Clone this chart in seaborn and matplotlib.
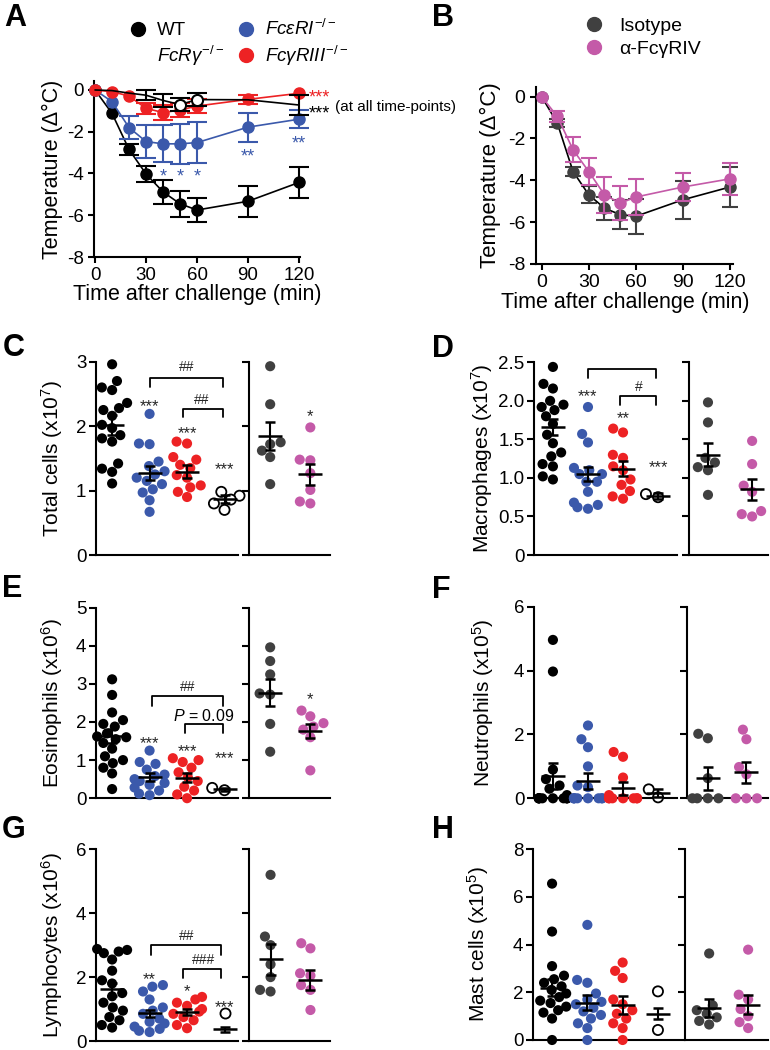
import numpy as np
import pandas as pd
import matplotlib
matplotlib.use("Agg")
import matplotlib.pyplot as plt
import seaborn as sns
from matplotlib.lines import Line2D

sns.set_theme(style="ticks")
plt.rcParams["font.family"] = ["Liberation Sans", "DejaVu Sans"]
plt.rcParams["mathtext.fontset"] = "custom"
plt.rcParams["mathtext.rm"] = "Liberation Sans"
plt.rcParams["mathtext.it"] = "Liberation Sans:italic"
plt.rcParams["axes.unicode_minus"] = False
plt.rcParams["axes.linewidth"] = 1.5
plt.rcParams["axes.edgecolor"] = "black"
plt.rcParams["xtick.major.width"] = 1.5
plt.rcParams["ytick.major.width"] = 1.5
plt.rcParams["xtick.major.size"] = 4.5
plt.rcParams["ytick.major.size"] = 4.5
plt.rcParams["xtick.color"] = "black"
plt.rcParams["ytick.color"] = "black"
plt.rcParams["text.color"] = "black"
plt.rcParams["axes.labelcolor"] = "black"

BLUE = "#3b59ab"
RED = "#ed2224"
GRAY = "#404040"
PINK = "#c45aa8"
STAR = "#262626"

# ---- A / B : temperature time course ----
times = [0, 10, 20, 30, 40, 50, 60, 90, 120]
time_ticks = [0, 30, 60, 90, 120]
temp_ticks = [0, -2, -4, -6, -8]

wt_temp = [0, -1.12, -2.85, -4.02, -4.88, -5.45, -5.75, -5.33, -4.43]
wt_temp_sem = [0, 0, 0.28, 0.40, 0.57, 0.62, 0.56, 0.74, 0.73]
fce_temp = [0, -0.56, -1.80, -2.47, -2.58, -2.58, -2.52, -1.78, -1.40]
fce_temp_sem = [0, 0, 0.56, 0.80, 0.89, 0.96, 1.00, 0.70, 0.44]
fcg_temp = [0, -0.08, -0.29, -0.88, -1.08, -0.96, -0.77, -0.45, -0.16]
fcg_temp_sem = [0, 0, 0, 0.28, 0.35, 0.35, 0.35, 0.20, 0]
fcr_temp = [0, -0.03, -0.15, -0.25, -0.50, -0.70, -0.46, -0.47, -0.72]
fcr_temp_sem = [0, 0, 0, 0.25, 0.30, 0.30, 0.30, 0, 0.50]

iso_temp = [0, -1.27, -3.58, -4.69, -5.33, -5.64, -5.72, -4.93, -4.32]
iso_temp_sem = [0, 0.20, 0.20, 0.40, 0.55, 0.68, 0.83, 0.90, 0.95]
anti_temp = [0, -0.95, -2.54, -3.58, -4.69, -5.09, -4.80, -4.32, -3.93]
anti_temp_sem = [0, 0.24, 0.60, 0.65, 0.87, 0.83, 0.87, 0.68, 0.75]

# ---- C : total cells (x10^7) ----
tc_wt = [2.96, 2.70, 2.60, 2.56, 2.36, 2.28, 2.25, 2.16, 2.02, 1.97, 1.86, 1.81, 1.76, 1.42, 1.34, 1.29, 1.11]
tc_fce = [2.19, 1.73, 1.72, 1.45, 1.38, 1.30, 1.25, 1.20, 1.15, 1.10, 1.02, 0.97, 0.85, 0.67]
tc_fcg = [1.76, 1.73, 1.52, 1.48, 1.40, 1.35, 1.24, 1.20, 1.08, 1.05, 0.98, 0.90]
tc_fcr = [0.98, 0.92, 0.86, 0.80, 0.70]
tc_iso = [2.93, 2.34, 1.75, 1.72, 1.62, 1.52, 1.10]
tc_anti = [1.98, 1.48, 1.47, 1.27, 1.01, 0.83, 0.80]
tc_mean = [2.02, 1.27, 1.29, 0.87, 1.85, 1.25]
tc_sem = [0.15, 0.11, 0.10, 0.06, 0.22, 0.16]

# ---- D : macrophages (x10^7) ----
mp_wt = [2.44, 2.22, 2.16, 2.00, 1.95, 1.92, 1.88, 1.80, 1.70, 1.56, 1.45, 1.33, 1.28, 1.18, 1.15, 1.02, 0.98]
mp_fce = [1.92, 1.57, 1.46, 1.13, 1.10, 1.05, 1.05, 0.95, 0.95, 0.82, 0.68, 0.65, 0.62, 0.60]
mp_fcg = [1.64, 1.59, 1.30, 1.26, 1.15, 1.10, 0.98, 0.91, 0.83, 0.76, 0.73]
mp_fcr = [0.79, 0.75]
mp_iso = [1.98, 1.72, 1.26, 1.20, 1.14, 1.10, 0.78]
mp_anti = [1.48, 1.18, 0.90, 0.82, 0.57, 0.53, 0.50]
mp_mean = [1.66, 1.05, 1.12, 0.77, 1.30, 0.85]
mp_sem = [0.10, 0.095, 0.10, 0.04, 0.15, 0.13]

# ---- E : eosinophils (x10^6) ----
eo_wt = [3.12, 2.71, 2.25, 2.05, 1.95, 1.88, 1.70, 1.62, 1.60, 1.55, 1.45, 1.30, 1.10, 1.00, 0.92, 0.80, 0.65, 0.24]
eo_fce = [1.25, 0.95, 0.90, 0.75, 0.62, 0.58, 0.50, 0.45, 0.40, 0.35, 0.28, 0.20, 0.12, 0.08]
eo_fcg = [1.05, 1.00, 0.95, 0.80, 0.68, 0.55, 0.45, 0.30, 0.20, 0.10, 0.0]
eo_fcr = [0.27, 0.21]
eo_iso = [3.96, 3.60, 3.25, 2.75, 2.72, 1.95, 1.22]
eo_anti = [2.30, 2.15, 1.97, 1.88, 1.80, 1.60, 0.73]
eo_mean = [1.63, 0.55, 0.54, 0.24, 2.77, 1.77]
eo_sem = [0.18, 0.11, 0.12, 0.04, 0.35, 0.18]

# ---- F : neutrophils (x10^5) ----
ne_wt = [4.96, 3.97, 0.90, 0.60, 0.40, 0.30, 0.10, 0, 0, 0, 0, 0, 0, 0, 0, 0, 0]
ne_fce = [2.28, 1.85, 1.60, 1.00, 0.40, 0.35, 0, 0, 0, 0, 0, 0, 0, 0]
ne_fcg = [1.45, 1.30, 0.65, 0.10, 0, 0, 0, 0, 0, 0, 0]
ne_fcr = [0.28, 0.03]
ne_iso = [2.02, 1.88, 0.63, 0, 0, 0, 0]
ne_anti = [2.15, 1.85, 0.98, 0.75, 0, 0, 0]
ne_mean = [0.70, 0.54, 0.31, 0.16, 0.63, 0.81]
ne_sem = [0.41, 0.26, 0.20, 0.12, 0.36, 0.34]

# ---- G : lymphocytes (x10^6) ----
ly_wt = [2.88, 2.85, 2.80, 2.75, 2.55, 2.20, 1.90, 1.80, 1.50, 1.40, 1.20, 1.05, 0.95, 0.75, 0.65, 0.50, 0.42]
ly_fce = [1.75, 1.70, 1.55, 1.30, 1.05, 0.95, 0.85, 0.70, 0.60, 0.55, 0.45, 0.38, 0.32, 0.28]
ly_fcg = [1.38, 1.30, 1.20, 1.10, 1.00, 0.92, 0.85, 0.75, 0.65, 0.50, 0.40]
ly_fcr = [0.89]
ly_iso = [5.20, 3.27, 3.00, 2.40, 2.00, 1.60, 1.55]
ly_anti = [3.06, 2.90, 2.12, 2.05, 1.75, 1.60, 0.97]
ly_mean = [1.62, 0.87, 0.90, 0.37, 2.56, 1.91]
ly_sem = [0.20, 0.11, 0.09, 0.08, 0.49, 0.31]

# ---- H : mast cells (x10^5) ----
mc_wt = [6.56, 4.55, 3.10, 2.70, 2.55, 2.40, 2.25, 2.10, 1.95, 1.80, 1.65, 1.55, 1.40, 1.25, 1.15, 0.90, 0.0]
mc_fce = [4.83, 2.52, 2.40, 1.95, 1.70, 1.60, 1.50, 1.35, 1.20, 1.05, 0.90, 0.70, 0.50, 0.0]
mc_fcg = [3.25, 2.90, 2.60, 1.70, 1.50, 1.25, 1.10, 0.90, 0.70, 0.50, 0.0]
mc_fcr = [2.04, 0.42]
mc_iso = [3.63, 1.45, 1.25, 1.10, 0.95, 0.80, 0.65]
mc_anti = [3.79, 1.90, 1.70, 1.30, 1.00, 0.75, 0.50]
mc_mean = [2.19, 1.57, 1.46, 1.11, 1.35, 1.48]
mc_sem = [0.35, 0.33, 0.38, 0.22, 0.37, 0.40]

left_order = ["WT", "FceRI", "FcgRIII", "FcRg"]
right_order = ["Isotype", "anti-FcgRIV"]
left_pal = {"WT": "black", "FceRI": BLUE, "FcgRIII": RED, "FcRg": "white"}
right_pal = {"Isotype": GRAY, "anti-FcgRIV": PINK}

fig = plt.figure(figsize=(7.7, 10.5), dpi=100)


def box(l, r, t, b):
    return [l / 770, 1 - b / 1050, (r - l) / 770, (b - t) / 1050]


def temp_line(ax, y, err, color, z, cap=7, **kw):
    err = np.where(np.array(err) > 0, err, np.nan)
    c = ax.errorbar(times, y, yerr=err, color=color, marker="o", ms=8, lw=1.2,
                    elinewidth=1.5, capsize=cap, capthick=1.5, zorder=z, **kw)
    for a in c.get_children():
        a.set_clip_on(False)


def style_time_axis(ax, xlim, top, size):
    ax.set_xlim(*xlim)
    ax.set_ylim(-8, top)
    ax.set_xticks(time_ticks)
    ax.set_yticks(temp_ticks)
    ax.tick_params(labelsize=size, pad=3)
    sns.despine(ax=ax)


def stars(ax, x, y, s, color=STAR, size=12):
    ax.annotate(s, (x, y), xytext=(0, -0.58 * size), textcoords="offset points",
                ha="center", va="baseline", fontsize=size, color=color,
                annotation_clip=False)


def hashes(ax, x, y, s, size=10):
    ax.annotate(s, (x, y), xytext=(0, -0.33 * size), textcoords="offset points",
                ha="center", va="baseline", fontsize=size, color=STAR)


def bracket(ax, x1, x2, top, bottom):
    ax.plot([x1, x1, x2, x2], [bottom, top, top, bottom], color="black", lw=1.3)


# ---------------- panel A ----------------
axA = fig.add_axes(box(94, 300, 81, 257))
temp_line(axA, wt_temp, wt_temp_sem, "black", 2)
temp_line(axA, fce_temp, fce_temp_sem, BLUE, 3)
temp_line(axA, fcg_temp, fcg_temp_sem, RED, 4)
temp_line(axA, fcr_temp, fcr_temp_sem, "black", 5, mfc="white", mec="black",
          mew=1.5, markevery=[5, 6])
style_time_axis(axA, (-0.6, 120.6), 0.43, 13.5)
axA.set_xlabel("Time after challenge (min)", fontsize=15.5, va="top")
axA.xaxis.set_label_coords(0.5, -(284 - 257) / 176)
axA.set_ylabel("Temperature (Δ°C)", fontsize=15.5, va="center")
axA.yaxis.set_label_coords((52 - 94) / 206, 0.5)
for t in [40, 50, 60]:
    stars(axA, t, -3.9, "*", BLUE, 13)
stars(axA, 90, -2.9, "**", BLUE, 13)
stars(axA, 120, -2.3, "**", BLUE, 13)
axA.annotate("***", (126, -0.12), xytext=(0, -7.5), textcoords="offset points",
             ha="left", va="baseline", fontsize=13, color=RED, annotation_clip=False)
axA.annotate("***", (126, -0.85), xytext=(0, -7.5), textcoords="offset points",
             ha="left", va="baseline", fontsize=13, color="black", annotation_clip=False)
axA.annotate("(at all time-points)", (141, -0.8), ha="left", va="center",
             fontsize=11, annotation_clip=False)

hA = [Line2D([], [], ls="", marker="o", ms=10, color="black"),
      Line2D([], [], ls="", marker="o", ms=10, mfc="none", mec="none"),
      Line2D([], [], ls="", marker="o", ms=10, color=BLUE),
      Line2D([], [], ls="", marker="o", ms=10, color=RED)]
labA = ["WT", r"$\mathit{FcR\gamma}^{-/-}$", r"$\mathit{Fc\varepsilon RI}^{-/-}$",
        r"$\mathit{Fc\gamma RIII}^{-/-}$"]
fig.legend(hA, labA, ncol=2, loc="upper left", bbox_to_anchor=(128.6 / 770, 1 - 19 / 1050),
           frameon=False, fontsize=13.5, handlelength=1.0, handletextpad=0.5,
           columnspacing=0.7, labelspacing=0.25, borderpad=0, borderaxespad=0)

# ---------------- panel B ----------------
axB = fig.add_axes(box(536, 733, 87, 264))
temp_line(axB, iso_temp, iso_temp_sem, "black", 2, cap=6, ecolor=GRAY, mfc=GRAY, mec=GRAY)
temp_line(axB, anti_temp, anti_temp_sem, PINK, 3, cap=6)
style_time_axis(axB, (-3.6, 121.9), 0.46, 14)
axB.set_xlabel("Time after challenge (min)", fontsize=15.5, va="top")
axB.xaxis.set_label_coords((625 - 536) / 197, -(292 - 264) / 177)
axB.set_ylabel("Temperature (Δ°C)", fontsize=16, va="center")
axB.yaxis.set_label_coords((490 - 536) / 197, 0.5)
hB = [Line2D([], [], ls="", marker="o", ms=10, color=GRAY),
      Line2D([], [], ls="", marker="o", ms=10, color=PINK)]
fig.legend(hB, ["Isotype", "α-FcγRIV"], loc="upper left",
           bbox_to_anchor=(584.6 / 770, 1 - 17 / 1050), frameon=False, fontsize=14,
           handlelength=1.0, handletextpad=0.78, labelspacing=0.3, borderpad=0,
           borderaxespad=0)


# ---------------- scatter panels ----------------
def scatter_pair(pos_l, pos_r, xlim_l, xlim_r, wt, fce, fcg, fcr, iso, anti,
                 means, sems, ymax, yticks, ylabels, ylabel, label_x):
    ax_l = fig.add_axes(box(*pos_l))
    ax_r = fig.add_axes(box(*pos_r))
    left = pd.DataFrame({
        "group": ["WT"] * len(wt) + ["FceRI"] * len(fce) + ["FcgRIII"] * len(fcg)
        + ["FcRg"] * len(fcr),
        "value": wt + fce + fcg + fcr})
    right = pd.DataFrame({
        "group": ["Isotype"] * len(iso) + ["anti-FcgRIV"] * len(anti),
        "value": iso + anti})
    sns.swarmplot(data=left, x="group", y="value", hue="group", order=left_order,
                  hue_order=left_order, palette=left_pal, size=7.3, linewidth=0,
                  legend=False, ax=ax_l)
    sns.swarmplot(data=right, x="group", y="value", hue="group", order=right_order,
                  hue_order=right_order, palette=right_pal, size=7.3, linewidth=0,
                  legend=False, ax=ax_r)
    ax_l.collections[3].set_edgecolor("black")
    ax_l.collections[3].set_linewidth(1.3)
    for ax in (ax_l, ax_r):
        for c in ax.collections:
            c.set_clip_on(False)
            c.set_zorder(3)
    ax_l.errorbar(range(4), means[:4], yerr=sems[:4], fmt="_", ms=17, mew=1.8,
                  color="black", elinewidth=1.5, capsize=3.8, capthick=1.5, zorder=4)
    ax_r.errorbar(range(2), means[4:], yerr=sems[4:], fmt="_", ms=17, mew=1.8,
                  color="black", elinewidth=1.5, capsize=3.8, capthick=1.5, zorder=4)
    for ax, xl in ((ax_l, xlim_l), (ax_r, xlim_r)):
        ax.set_xlim(*xl)
        ax.set_ylim(0, ymax)
        ax.set_xticks([])
        ax.set_xlabel("")
        ax.set_ylabel("")
        ax.set_yticks(yticks)
        ax.tick_params(axis="y", labelsize=13.5, pad=2, length=5)
        sns.despine(ax=ax)
    ax_l.set_yticklabels(ylabels)
    ax_r.set_yticklabels([])
    ax_l.set_ylabel(ylabel, fontsize=15, va="center")
    ax_l.yaxis.set_label_coords(label_x, 0.5)
    return ax_l, ax_r


# C
axCl, axCr = scatter_pair((96, 238, 361.7, 555), (248.5, 330, 361.7, 555),
                          (-0.43, 3.36), (-0.54, 1.49),
                          tc_wt, tc_fce, tc_fcg, tc_fcr, tc_iso, tc_anti, tc_mean, tc_sem,
                          3, [0, 1, 2, 3], ["0", "1", "2", "3"],
                          r"Total cells (x10$^{7}$)", (52 - 96) / 142)
stars(axCl, 1, 2.39, "***")
stars(axCl, 2, 1.97, "***")
stars(axCl, 3, 1.41, "***")
stars(axCr, 1, 2.22, "*")
bracket(axCl, 1.0, 2.95, 2.74, 2.61)
hashes(axCl, 2.0, 2.92, "##")
bracket(axCl, 1.9, 2.95, 2.27, 2.14)
hashes(axCl, 2.4, 2.41, "##")

# D
axDl, axDr = scatter_pair((534, 677, 362.3, 555), (689, 768, 362.3, 555),
                          (-0.54, 3.54), (-0.43, 1.36),
                          mp_wt, mp_fce, mp_fcg, mp_fcr, mp_iso, mp_anti, mp_mean, mp_sem,
                          2.5, [0, 0.5, 1, 1.5, 2, 2.5],
                          ["0", "0.5", "1.0", "1.5", "2.0", "2.5"],
                          r"Macrophages (x10$^{7}$)", (482 - 534) / 143)
stars(axDl, 1, 2.12, "***")
stars(axDl, 2, 1.83, "**")
stars(axDl, 3, 1.20, "***")
bracket(axDl, 1.0, 2.95, 2.41, 2.29)
hashes(axDl, 2.0, 2.55, "#")
bracket(axDl, 1.9, 2.95, 2.06, 1.95)
hashes(axDl, 2.46, 2.19, "#")

# E
axEl, axEr = scatter_pair((96, 238, 607.7, 798.2), (248.5, 330, 607.7, 798.2),
                          (-0.43, 3.36), (-0.54, 1.49),
                          eo_wt, eo_fce, eo_fcg, eo_fcr, eo_iso, eo_anti, eo_mean, eo_sem,
                          5, [0, 1, 2, 3, 4, 5], ["0", "1", "2", "3", "4", "5"],
                          r"Eosinophils (x10$^{6}$)", (52 - 96) / 142)
stars(axEl, 1, 1.56, "***")
stars(axEl, 2, 1.37, "***")
stars(axEl, 3, 1.18, "***")
stars(axEr, 1, 2.73, "*")
bracket(axEl, 1.07, 2.95, 2.67, 2.43)
hashes(axEl, 2.02, 2.93, "##")
bracket(axEl, 1.95, 2.95, 1.94, 1.72)
axEl.annotate(r"$\mathit{P}$ = 0.09", (2.43, 2.17), xytext=(0, -4), textcoords="offset points",
              ha="center", va="baseline", fontsize=11.5)

# F
scatter_pair((534, 677, 606.7, 798.3), (687, 768, 606.7, 798.3),
             (-0.54, 3.54), (-0.54, 1.56),
             ne_wt, ne_fce, ne_fcg, ne_fcr, ne_iso, ne_anti, ne_mean, ne_sem,
             6, [0, 2, 4, 6], ["0", "2", "4", "6"],
             r"Neutrophils (x10$^{5}$)", (483 - 534) / 143)

# G
axGl, axGr = scatter_pair((96, 238, 849.3, 1041), (249, 330, 849.3, 1041),
                          (-0.43, 3.36), (-0.54, 1.49),
                          ly_wt, ly_fce, ly_fcg, ly_fcr, ly_iso, ly_anti, ly_mean, ly_sem,
                          6, [0, 2, 4, 6], ["0", "2", "4", "6"],
                          r"Lymphocytes (x10$^{6}$)", (52 - 96) / 142)
stars(axGl, 1, 2.07, "**")
stars(axGl, 2, 1.70, "*")
stars(axGl, 3, 1.21, "***")
bracket(axGl, 1.03, 2.9, 2.99, 2.69)
hashes(axGl, 2.0, 3.32, "##")
bracket(axGl, 1.9, 2.9, 2.25, 1.96)
hashes(axGl, 2.43, 2.56, "###")

# H
scatter_pair((533, 677, 849.3, 1040), (685, 768, 849.3, 1040),
             (-0.54, 3.54), (-0.62, 1.51),
             mc_wt, mc_fce, mc_fcg, mc_fcr, mc_iso, mc_anti, mc_mean, mc_sem,
             8, [0, 2, 4, 6, 8], ["0", "2", "4", "6", "8"],
             r"Mast cells (x10$^{5}$)", (478 - 533) / 144)

# panel letters
for letter, x, y in [("A", 4, 26), ("B", 432, 26), ("C", 3, 356), ("D", 432, 357),
                     ("E", 2, 597), ("F", 432, 598), ("G", 2, 838), ("H", 432, 838)]:
    fig.text(x / 770, 1 - y / 1050, letter, fontsize=22, fontweight="bold", va="baseline")

fig.savefig("out.png", dpi=100)
